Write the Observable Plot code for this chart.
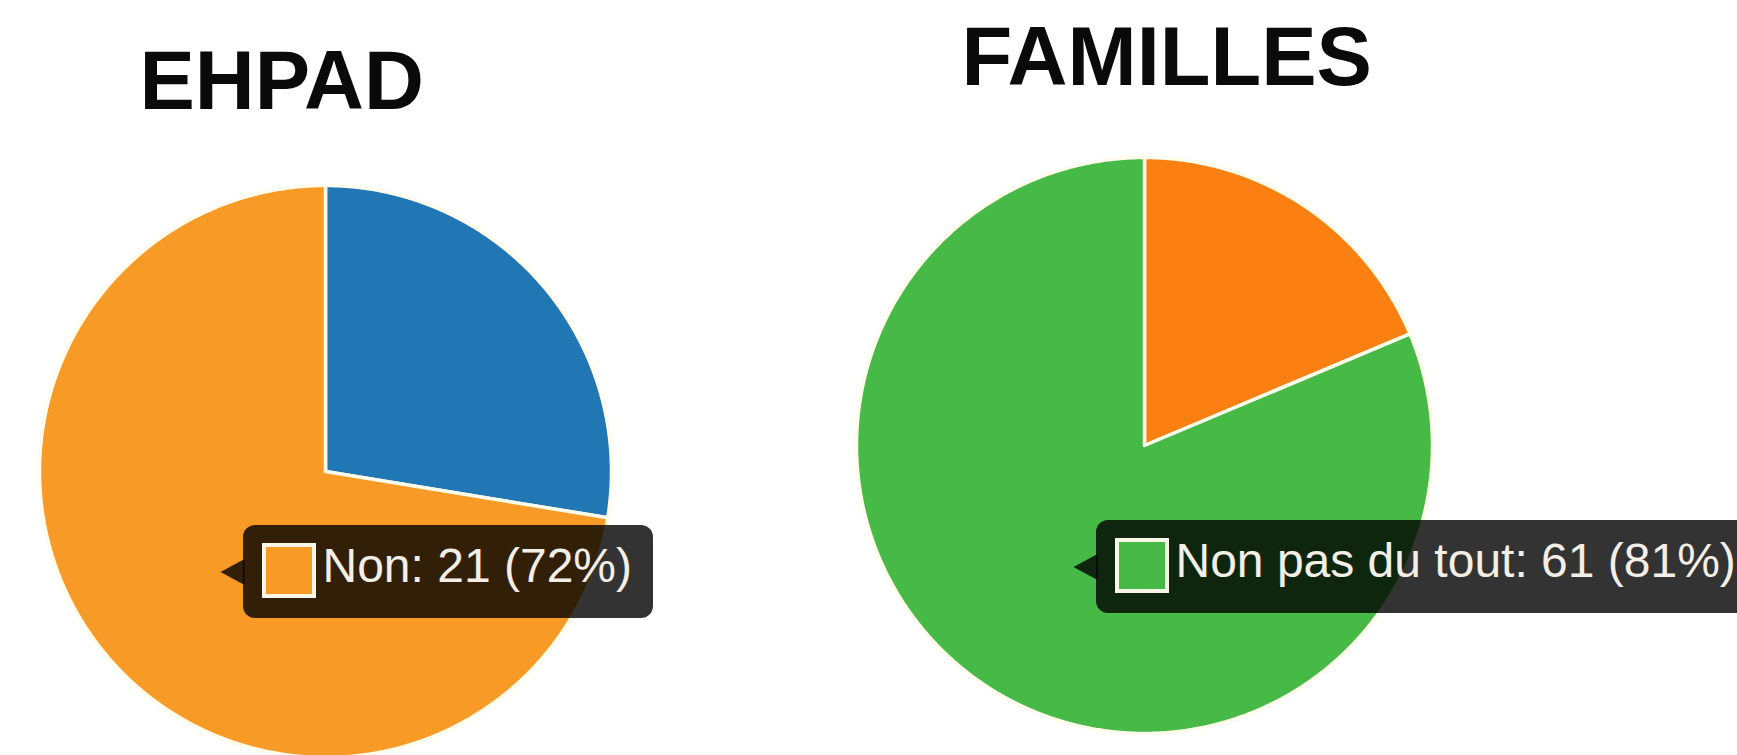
<!DOCTYPE html>
<html>
<head>
<meta charset="utf-8">
<script src="https://cdn.jsdelivr.net/npm/d3@7"></script>
<script src="https://cdn.jsdelivr.net/npm/@observablehq/plot@0.6"></script>
<style>
  html, body { margin: 0; padding: 0; background: #ffffff; }
  #chart svg { display: block; }
</style>
</head>
<body>
<div id="chart"></div>
<script>
// ---- Data ----
const pieTitles = ["EHPAD", "FAMILLES"];
const ehpadCategories = ["Oui", "Non"];
const ehpadValues = [8, 21];
const famillesCategories = ["Autres réponses", "Non pas du tout"];
const famillesValues = [14, 61];
const highlighted = ["Non", "Non pas du tout"]; // slice shown in the tooltip of each pie

// ---- Styles / layout ----
const W = 1737, H = 755;
const ehpadColors = ["#2077b4", "#f89a26"];
const famillesColors = ["#fc7f12", "#46b947"];
const pies = [
  {title: pieTitles[0], cats: ehpadCategories, vals: ehpadValues, colors: ehpadColors,
   cx: 325, cy: 471, r: 286, titleX: 139, titleY: 50,
   tip: {x1: 243, x2: 653, y1: 525, y2: 618, tipX: 220}},
  {title: pieTitles[1], cats: famillesCategories, vals: famillesValues, colors: famillesColors,
   cx: 1144, cy: 445, r: 288, titleX: 961, titleY: 26,
   tip: {x1: 1096, x2: 1760, y1: 520, y2: 613, tipX: 1073}}
];

// ---- Build wedge polygons from the data ----
const wedges = [];
const tipBoxes = [], tipArrows = [], swatches = [], tipTexts = [], titles = [];
pies.forEach((p, pi) => {
  const arcs = d3.pie().sort(null).value(d => d)(p.vals);
  const total = d3.sum(p.vals);
  arcs.forEach((a, i) => {
    const key = pi + "-" + i;
    const color = p.colors[i];
    wedges.push({key, color, x: p.cx, y: p.cy});
    const n = Math.max(2, Math.ceil((a.endAngle - a.startAngle) / 0.005));
    for (let k = 0; k <= n; ++k) {
      const t = a.startAngle + (a.endAngle - a.startAngle) * k / n;
      wedges.push({key, color, x: p.cx + p.r * Math.sin(t), y: p.cy - p.r * Math.cos(t)});
    }
    wedges.push({key, color, x: p.cx, y: p.cy});
  });
  titles.push({text: p.title, x: p.titleX, y: p.titleY});
  const hi = p.cats.indexOf(highlighted[pi]);
  const v = p.vals[hi];
  const pct = Math.round(v / total * 100);
  const t = p.tip;
  const cyTip = (t.y1 + t.y2) / 2;
  tipBoxes.push({x1: t.x1, x2: t.x2, y1: t.y1, y2: t.y2});
  const ak = "a" + pi;
  tipArrows.push({key: ak, x: t.x1 + 1, y: cyTip - 13}, {key: ak, x: t.tipX, y: cyTip}, {key: ak, x: t.x1 + 1, y: cyTip + 13});
  swatches.push({x1: t.x1 + 21, x2: t.x1 + 71, y1: t.y1 + 20, y2: t.y1 + 71, color: p.colors[hi]});
  tipTexts.push({text: `${p.cats[hi]}: ${v} (${pct}%)`, x: t.x1 + 79, y: t.y1 + 22});
});

const chart = Plot.plot({
  width: W,
  height: H,
  margin: 0,
  x: {domain: [0, W], range: [0, W], axis: null},
  y: {domain: [0, H], range: [0, H], axis: null},
  color: {type: "identity"},
  style: {fontFamily: "'Liberation Sans', Arial, sans-serif", background: "#ffffff"},
  marks: [
    Plot.line(wedges, {x: "x", y: "y", z: "key", fill: "color", stroke: "#fffcec", strokeWidth: 3.5, strokeLinejoin: "round", curve: "linear"}),
    Plot.text(titles, {x: "x", y: "y", text: "text", textAnchor: "start", lineAnchor: "top", fontSize: 83, fontWeight: "bold", fill: "#0a0a0a"}),
    Plot.rect(tipBoxes, {x1: "x1", x2: "x2", y1: "y1", y2: "y2", rx: 12, fill: "black", fillOpacity: 0.8}),
    Plot.line(tipArrows, {x: "x", y: "y", z: "key", fill: "black", fillOpacity: 0.8, stroke: "none"}),
    Plot.rect(swatches, {x1: "x1", x2: "x2", y1: "y1", y2: "y2", fill: "color", stroke: "#fbf6e6", strokeWidth: 4}),
    Plot.text(tipTexts, {x: "x", y: "y", text: "text", textAnchor: "start", lineAnchor: "top", fontSize: 48, fill: "#f3efe6"})
  ]
});
document.getElementById("chart").appendChild(chart);
</script>
</body>
</html>
